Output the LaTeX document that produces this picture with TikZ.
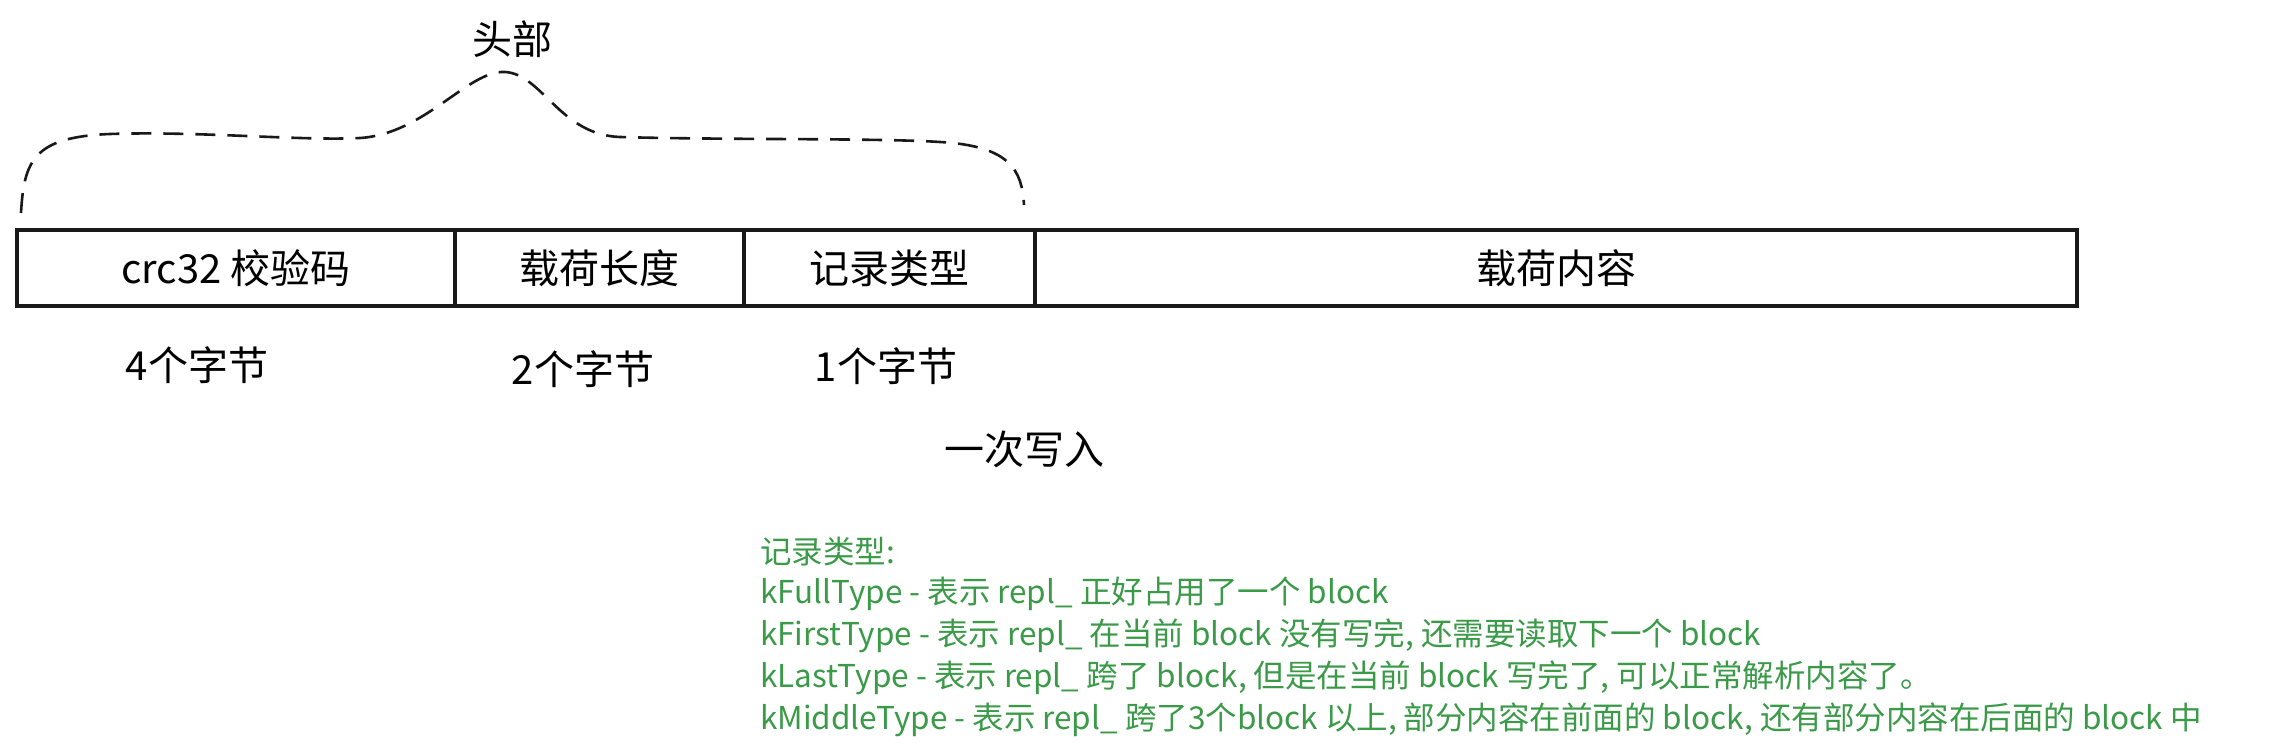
\documentclass[tikz,border=0pt]{standalone}
\usepackage{fontspec}
\setmainfont{Noto Sans CJK SC}
\definecolor{notegreen}{HTML}{3A9A48}
\begin{document}
\begin{tikzpicture}[x=1pt,y=-1pt,
  field/.style={draw=black!90,line width=3.5pt,inner sep=0pt,font=\fontsize{40}{48}\selectfont},
  lbl/.style={inner sep=0pt,font=\fontsize{40}{48}\selectfont},
  note/.style={anchor=west,inner sep=0pt,text=notegreen,font=\fontsize{31.5}{38}\selectfont},
  bracepath/.style={draw=black!90,line width=2.6pt,dash pattern=on 20pt off 12pt}]
\useasboundingbox (0,0) rectangle (2270,754);
% fields
\node[field,minimum width=438pt,minimum height=76pt] (crc) at (236,268) {crc32 校验码};
\node[field,minimum width=289pt,minimum height=76pt] (len) at (599.5,268) {载荷长度};
\node[field,minimum width=291pt,minimum height=76pt] (typ) at (889.5,268) {记录类型};
\node[field,minimum width=1042pt,minimum height=76pt] (pay) at (1556,268) {载荷内容};
% size labels
\node[lbl] (s4) at (197,365) {4个字节};
\node[lbl] (s2) at (583,369) {2个字节};
\node[lbl] (s1) at (886,366) {1个字节};
\node[lbl] (once) at (1024,449) {一次写入};
\node[lbl] (head) at (512,39) {头部};
% dashed brace
\coordinate (b0) at (21,213);
\coordinate (b1) at (110,134);
\coordinate (b2) at (360,138);
\coordinate (bp) at (505,72);
\coordinate (b3) at (620,137);
\coordinate (b4) at (940,142);
\coordinate (b5) at (1024,205);
\draw[bracepath] (b0) .. controls (24,160) and (34,137) .. (b1)
  .. controls (200,131) and (300,141) .. (b2)
  .. controls (425,134) and (468,70) .. (bp)
  .. controls (542,74) and (560,135) .. (b3)
  .. controls (720,140) and (880,138) .. (b4)
  .. controls (1010,146) and (1022,170) .. (b5);
% notes
\node[note] (n0) at (760,552) {记录类型:};
\node[note] (n1) at (760,594) {kFullType - 表示 repl\_ 正好占用了一个 block};
\node[note] (n2) at (760,636) {kFirstType - 表示 repl\_ 在当前 block 没有写完, 还需要读取下一个 block};
\node[note] (n3) at (760,678) {kLastType - 表示 repl\_ 跨了 block, 但是在当前 block 写完了, 可以正常解析内容了。};
\node[note] (n4) at (760,720) {kMiddleType - 表示 repl\_ 跨了3个block 以上, 部分内容在前面的 block, 还有部分内容在后面的 block 中};
\end{tikzpicture}
\end{document}
